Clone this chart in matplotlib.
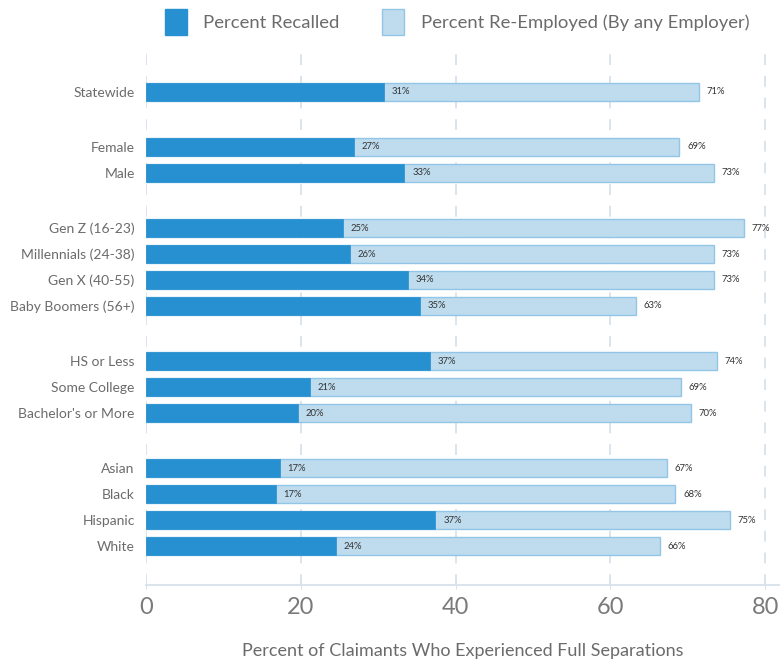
import matplotlib.pyplot as plt
import numpy as np
from matplotlib.patches import Patch

plt.rcParams['font.family'] = ['Lato', 'DejaVu Sans']

# Groups of claimants, top to bottom
groups = [
    ["Statewide"],
    ["Female", "Male"],
    ["Gen Z (16-23)", "Millennials (24-38)", "Gen X (40-55)", "Baby Boomers (56+)"],
    ["HS or Less", "Some College", "Bachelor's or More"],
    ["Asian", "Black", "Hispanic", "White"],
]
recalled = [30.8, 26.9, 33.4, 25.4, 26.4, 33.9, 35.4, 36.7, 21.2, 19.6, 17.3, 16.8, 37.4, 24.5]
reemployed = [71.4, 68.9, 73.4, 77.2, 73.4, 73.4, 63.3, 73.7, 69.1, 70.4, 67.3, 68.4, 75.4, 66.4]

dark = "#2690d0"
light = "#bedcee"
light_edge = "#92c5e6"
grid_col = "#d8e1ec"
text_col = "#6b6b6b"

# y positions with an extra gap between groups
labels, ypos = [], []
y = 0.0
for g in groups:
    for name in g:
        labels.append(name)
        ypos.append(y)
        y += 1
    y += 1.12
ypos = np.array(ypos)

fig = plt.figure(figsize=(7.8, 6.64), dpi=100)
ax = fig.add_axes([0.187, 0.119, 0.813, 0.813])

h = 0.7
ax.barh(ypos, reemployed, height=h, color=light, edgecolor=light_edge, linewidth=1, zorder=2)
ax.barh(ypos, recalled, height=h, color=dark, edgecolor=dark, linewidth=0.5, zorder=3)

for yy, r, e in zip(ypos, recalled, reemployed):
    ax.text(r + 1.0, yy, f"{r:.0f}%", va="center", ha="left", fontsize=6.8, color="#333333", zorder=4)
    ax.text(e + 1.0, yy, f"{e:.0f}%", va="center", ha="left", fontsize=6.8, color="#333333", zorder=4)

ax.set_xlim(0, 81.9)
ax.set_ylim(ypos[-1] + 1.5, -1.8)
ax.set_xticks([0, 20, 40, 60, 80])
ax.set_yticks(ypos)
ax.set_yticklabels(labels, fontsize=10, color=text_col)
ax.tick_params(axis="y", length=0, pad=8)
ax.tick_params(axis="x", length=6, direction="inout", color=grid_col, labelsize=17,
               labelcolor="#7a7a7a", pad=6)

ax.grid(axis="x", color=grid_col, linestyle=(0, (6, 6)), linewidth=1.3, zorder=0)
for s in ["top", "right", "left"]:
    ax.spines[s].set_visible(False)
ax.spines["bottom"].set_color(grid_col)
ax.spines["bottom"].set_linewidth(1.3)

ax.set_xlabel("Percent of Claimants Who Experienced Full Separations", fontsize=13,
              color=text_col, labelpad=18)

handles = [Patch(facecolor=dark, edgecolor=dark), Patch(facecolor=light, edgecolor=light_edge)]
fig.legend(handles, ["Percent Recalled", "Percent Re-Employed (By any Employer)"],
           loc="upper center", bbox_to_anchor=(0.586, 1.012), ncol=2, frameon=False,
           fontsize=13.3, labelcolor=text_col, handlelength=1.2, handleheight=1.8,
           columnspacing=2.3, handletextpad=0.9)

fig.savefig("out.png", dpi=100)
